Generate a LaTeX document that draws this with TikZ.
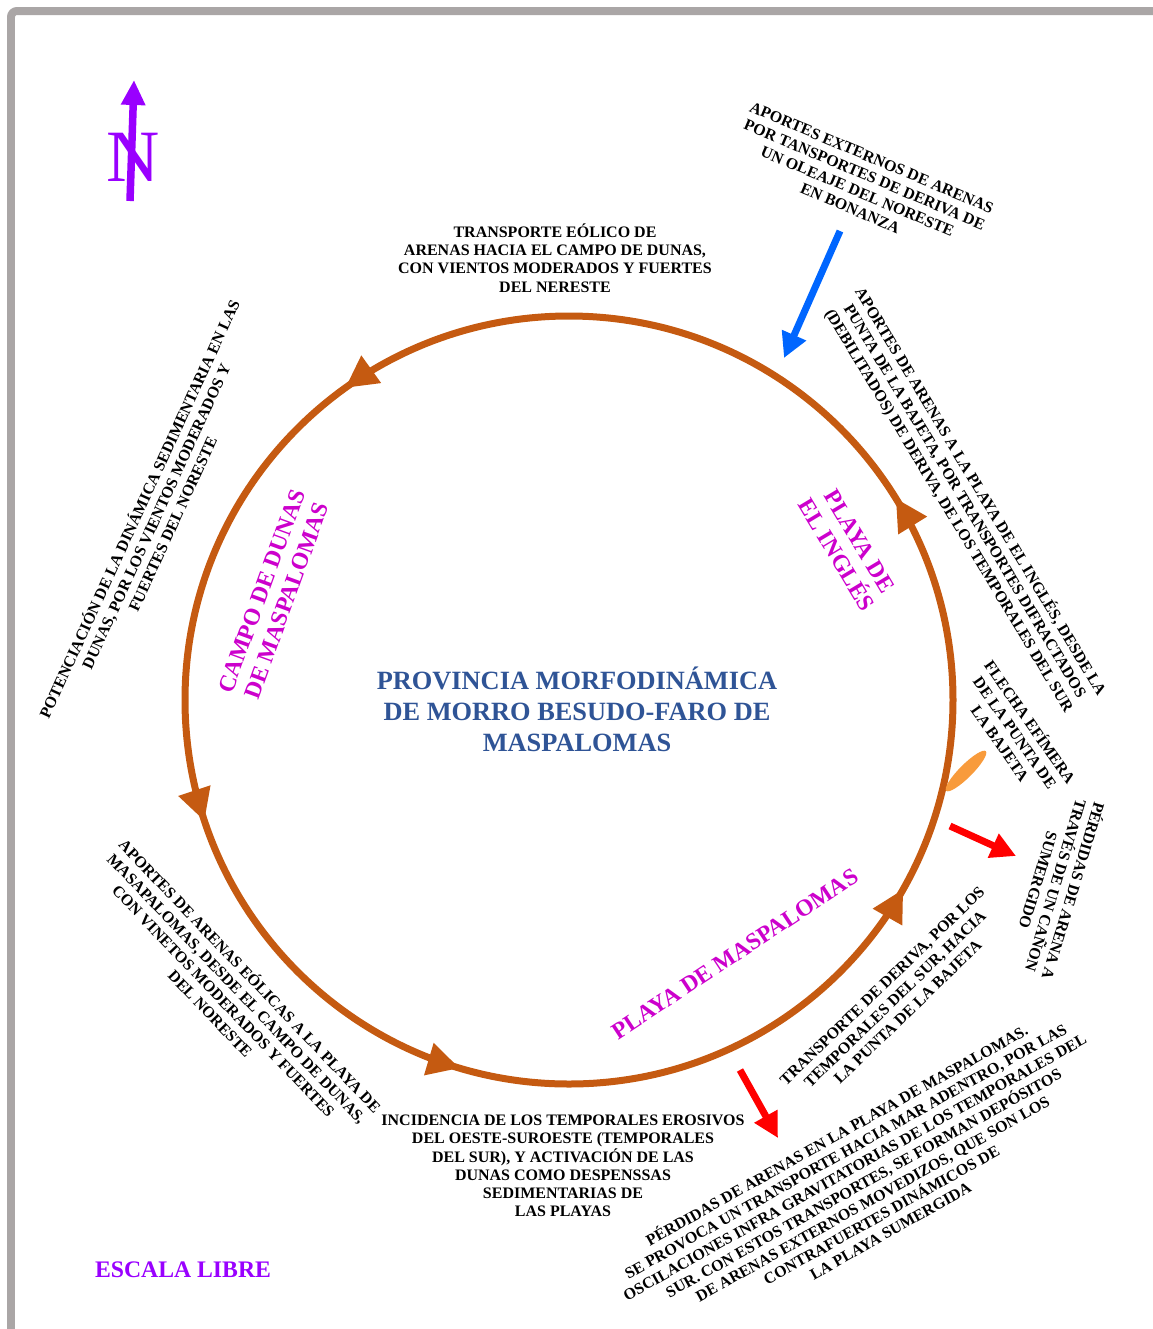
\documentclass[tikz,border=0pt]{standalone}
\usepackage{fontspec}
\setmainfont{Liberation Serif}
\usepackage{xcolor}
\usetikzlibrary{calc}
\usetikzlibrary{arrows.meta}
\usetikzlibrary{decorations.markings}
\usetikzlibrary{shapes.geometric}

\definecolor{marco}{RGB}{170,166,166}
\definecolor{ciclo}{RGB}{197,90,17}
\definecolor{azulflecha}{RGB}{0,102,255}
\definecolor{rojoflecha}{RGB}{255,0,0}
\definecolor{naranjaflecha}{RGB}{248,155,60}
\definecolor{titulo}{RGB}{47,84,150}
\definecolor{zonacolor}{RGB}{204,0,204}
\definecolor{morado}{RGB}{153,0,255}

\tikzset{
  nota/.style={font=\bfseries\fontsize{9.1}{10.4}\selectfont, align=center, inner sep=0pt},
  zona/.style={text=zonacolor, font=\bfseries\fontsize{13.4}{15}\selectfont, align=center, inner sep=0pt},
  flujo/.style={line width=0.14cm, -{Triangle[length=0.5cm,width=0.5cm]}}
}

\begin{document}
\begin{tikzpicture}[x=0.02cm, y=-0.02cm]
                \useasboundingbox (0,0) rectangle (1153,1329);

                % Drawing frame
                \draw [line width=0.16cm, marco, rounded corners=0.12cm] (11,1345) -- (11,11) -- (1165,11);%

                % Drawing cycle of sands
                \draw [line width=0.14cm, ciclo, postaction={decorate},
                  decoration={markings,
                    mark=at position 0.082 with {\arrowreversed{Triangle[length=0.64cm,width=0.64cm]}},
                    mark=at position 0.296 with {\arrowreversed{Triangle[length=0.64cm,width=0.64cm]}},
                    mark=at position 0.449 with {\arrowreversed{Triangle[length=0.64cm,width=0.64cm]}},
                    mark=at position 0.651 with {\arrowreversed{Triangle[length=0.64cm,width=0.64cm]}},
                    mark=at position 0.912 with {\arrowreversed{Triangle[length=0.64cm,width=0.64cm]}}}]
                  (569,700) circle (384);%

                % Marking north
                \node [text=morado, font=\fontsize{42}{42}\selectfont, inner sep=0pt] (norte) at (133,157) {N};%
                \coordinate (norteBase) at (130,201);%
                \coordinate (norteTip) at (134,80);%
                \draw [morado, line width=0.15cm, -{Triangle[length=0.5cm,width=0.46cm]}] (norteBase) -- (norteTip);%

                % Marking scale
                \node [text=morado, font=\bfseries\fontsize{13.5}{15}\selectfont, inner sep=0pt] (escala) at (183,1270) {ESCALA LIBRE};%

                % Marking title
                \node [text=titulo, font=\bfseries\fontsize{15}{17.6}\selectfont, align=center, inner sep=0pt] (provincia) at (577,709)
                  {PROVINCIA MORFODINÁMICA\\DE MORRO BESUDO-FARO DE\\MASPALOMAS};%

                % Marking zones
                \node [zona, rotate=70] (campoDunas) at (274,596) {CAMPO DE DUNAS\\DE MASPALOMAS};%
                \node [zona, rotate=-59] (playaIngles) at (848,548) {PLAYA DE\\EL INGLÉS};%
                \node [zona, rotate=33.4] (playaMaspalomas) at (735,954) {PLAYA DE MASPALOMAS};%

                % Marking flecha of la Bajeta
                \node [ellipse, fill=naranjaflecha, minimum width=1.12cm, minimum height=0.26cm, inner sep=0pt, rotate=45] (flecha) at (966,771) {};%

                % Drawing external input
                \coordinate (azulA) at (840,231);%
                \coordinate (azulB) at (784,358);%
                \draw [flujo, azulflecha] (azulA) -- (azulB);%

                % Drawing losses
                \coordinate (rojoA) at (950,826);%
                \coordinate (rojoB) at (1016,856);%
                \draw [flujo, rojoflecha] (rojoA) -- (rojoB);%
                \coordinate (rojoC) at (740,1070);%
                \coordinate (rojoD) at (778,1138);%
                \draw [flujo, rojoflecha] (rojoC) -- (rojoD);%

                % Marking notes
                \node [nota] (eolico) at (555,258)
                  {TRANSPORTE EÓLICO DE\\ARENAS HACIA EL CAMPO DE DUNAS,\\CON VIENTOS MODERADOS Y FUERTES\\DEL NERESTE};%
                \node [nota, rotate=-23] (externos) at (861,183)
                  {APORTES EXTERNOS DE ARENAS\\POR TANSPORTES DE DERIVA DE\\UN OLEAJE DEL NORESTE\\EN BONANZA};%
                \node [nota, rotate=-59] (aportesIngles) at (965,501)
                  {APORTES DE ARENAS A LA PLAYA DE EL INGLÉS, DESDE LA\\PUNTA DE LA BAJETA, POR TRANSPORTES DIFRACTADOS\\(DEBILITADOS) DE DERIVA, DE LOS TEMPORALES DEL SUR};%
                \node [nota, rotate=-55] (efimera) at (1016,732)
                  {FLECHA EFÍMERA\\DE LA PUNTA DE\\LA BAJETA};%
                \node [nota, rotate=-106.7] (canon) at (1057,886)
                  {PÉRDIDAS DE ARENA A\\TRAVÉS DE UN CAÑON\\SUMERGIDO};%
                \node [nota, rotate=65.3] (potenciacion) at (155,516)
                  {POTENCIACIÓN DE LA DINÁMICA SEDIMENTARIA EN LAS\\DUNAS, POR LOS VIENTOS MODERADOS Y\\FUERTES DEL NORESTE};%
                \node [nota, rotate=-46.3] (eolicas) at (231,994)
                  {APORTES DE ARENAS EÓLICAS A LA PLAYA DE\\MASAPALOMAS, DESDE EL CAMPO DE DUNAS,\\CON VINETOS MODERADOS Y FUERTES\\DEL NORESTE};%
                \node [nota] (incidencia) at (563,1166)
                  {INCIDENCIA DE LOS TEMPORALES EROSIVOS\\DEL OESTE-SUROESTE (TEMPORALES\\DEL SUR), Y ACTIVACIÓN DE LAS\\DUNAS COMO DESPENSSAS\\SEDIMENTARIAS DE\\LAS PLAYAS};%
                \node [nota, rotate=44.1] (deriva) at (895,999)
                  {TRANSPORTE DE DERIVA, POR LOS\\TEMPORALES DEL SUR, HACIA\\LA PUNTA DE LA BAJETA};%
                \node [nota, rotate=29.3] (perdidas) at (863,1182)
                  {PÉRDIDAS DE ARENAS EN LA PLAYA DE MASPALOMAS.\\SE PROVOCA UN TRANSPORTE HACIA MAR ADENTRO, POR LAS\\OSCILACIONES INFRA GRAVITATORIAS DE LOS TEMPORALES DEL\\SUR. CON ESTOS TRANSPORTES, SE FORMAN DEPÓSITOS\\DE ARENAS EXTERNOS MOVEDIZOS, QUE SON LOS\\CONTRAFUERTES DINÁMICOS DE\\LA PLAYA SUMERGIDA};%
\end{tikzpicture}
\end{document}
